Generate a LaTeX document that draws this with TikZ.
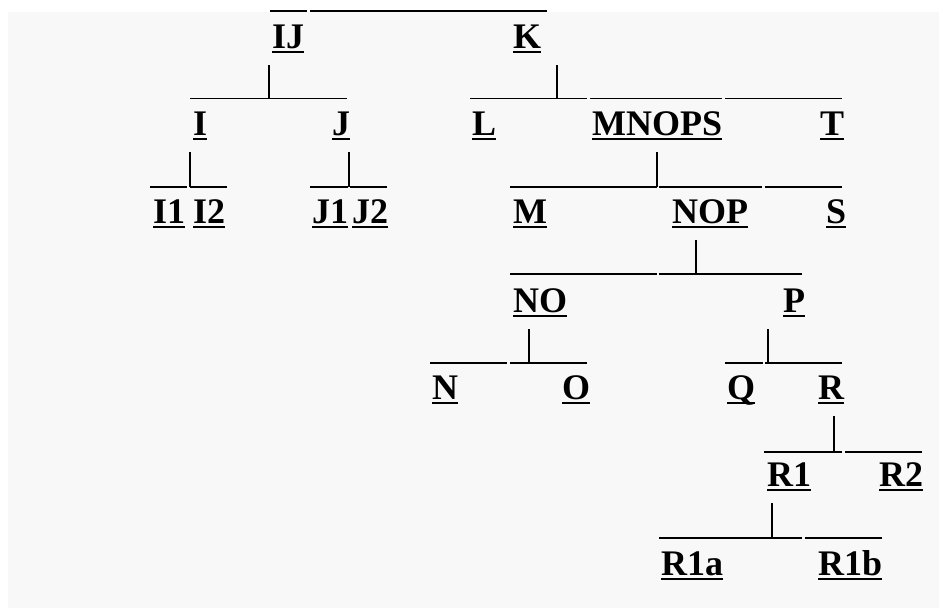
\documentclass[tikz,border=0pt]{standalone}
\usepackage{fontspec}
\setmainfont{Liberation Serif}
\usepackage{tikz}
\usetikzlibrary{positioning,calc}

\definecolor{bgpaper}{HTML}{F8F8F8}
\newcommand\ul[1]{\setbox0=\hbox{#1}\rlap{\rule[-5pt]{\wd0}{2pt}}\box0}

\tikzset{
  lbl/.style={inner sep=0pt, anchor=base west, font=\bfseries\fontsize{36}{40}\selectfont},
  bar/.style={line width=1.8pt},
  stem/.style={line width=2.4pt},
}

\begin{document}
\begin{tikzpicture}[x=1pt, y=-1pt]

\useasboundingbox (0,0) rectangle (939,614);
\fill[bgpaper] (8,12) rectangle (939,608);

% labels, row by row
\node[lbl] (IJ) at (272,48) {\ul{IJ}};
\node[lbl] (K) at (513,48) {\ul{K}};

\node[lbl] (I) at (193,135) {\ul{I}};
\node[lbl] (J) at (332,135) {\ul{J}};
\node[lbl] (L) at (472,135) {\ul{L}};
\node[lbl] (MNOPS) at (592,135) {\ul{MNOPS}};
\node[lbl] (T) at (820,135) {\ul{T}};

\node[lbl] (I1) at (153,223) {\ul{I1}};
\node[lbl] (I2) at (193,223) {\ul{I2}};
\node[lbl] (J1) at (312,223) {\ul{J1}};
\node[lbl] (J2) at (352,223) {\ul{J2}};
\node[lbl] (M) at (513,223) {\ul{M}};
\node[lbl] (NOP) at (672,223) {\ul{NOP}};
\node[lbl] (S) at (826,223) {\ul{S}};

\node[lbl] (NO) at (513,312) {\ul{NO}};
\node[lbl] (P) at (783,312) {\ul{P}};

\node[lbl] (N) at (432,399) {\ul{N}};
\node[lbl] (O) at (562,399) {\ul{O}};
\node[lbl] (Q) at (727,399) {\ul{Q}};
\node[lbl] (R) at (818,399) {\ul{R}};

\node[lbl] (R1) at (767,486) {\ul{R1}};
\node[lbl] (R2) at (879,486) {\ul{R2}};

\node[lbl] (R1a) at (661,575) {\ul{R1a}};
\node[lbl] (R1b) at (818,575) {\ul{R1b}};

% junctions
\coordinate (jIJ) at (269,98.5);
\coordinate (jK) at (557,98.5);
\coordinate (jI) at (190,187);
\coordinate (jJ) at (349,187);
\coordinate (jMNOPS) at (657,187);
\coordinate (jNOP) at (696,274);
\coordinate (jNO) at (529,363);
\coordinate (jP) at (768,363);
\coordinate (jR) at (834,452);
\coordinate (jR1) at (772,538);

% stems
\foreach \p in {IJ,K,I,J,MNOPS,NOP,NO,P,R,R1}
  \draw[stem] ([yshift=-17pt]\p.base -| j\p) -- (j\p);

% bars
\foreach \a/\b in {270/307,310/547}
  \draw[bar] (\a,11) -- (\b,11);
\foreach \a/\b in {190/268,270/347,470/587,590/722,725/842}
  \draw[bar] (\a,98.5) -- (\b,98.5);
\foreach \a/\b in {150/187,190/227,310/348,350/387,510/657,659/762,765/842}
  \draw[bar] (\a,187) -- (\b,187);
\foreach \a/\b in {510/657,659/802}
  \draw[bar] (\a,274) -- (\b,274);
\foreach \a/\b in {430/507,510/587,725/763,765/842}
  \draw[bar] (\a,363) -- (\b,363);
\foreach \a/\b in {764/842,845/922}
  \draw[bar] (\a,452) -- (\b,452);
\foreach \a/\b in {659/802,805/882}
  \draw[bar] (\a,538) -- (\b,538);

\end{tikzpicture}
\end{document}
